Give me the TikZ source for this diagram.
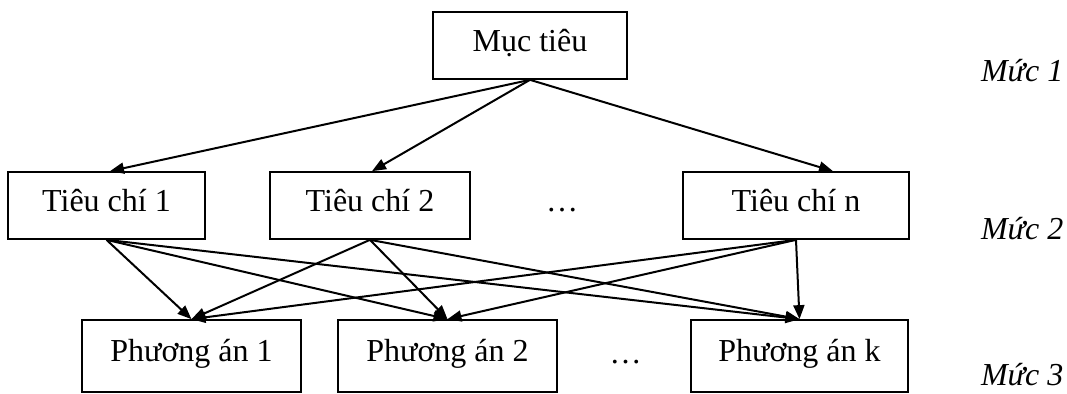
\documentclass[tikz,border=0pt]{standalone}
\usepackage{fontspec}
\setmainfont{Liberation Serif}
\usetikzlibrary{arrows.meta}
\newcommand{\diagfont}{\fontsize{16pt}{19pt}\selectfont}
\tikzset{box/.style={draw=black, line width=0.85pt, inner sep=0pt, text height=20pt, text depth=13.5pt, minimum width=#1},
%default width of a box
box/.default={100pt},
tall/.style={text height=21pt, text depth=15pt},
level/.style={anchor=base west, font=\diagfont\itshape},
arrow/.style={-{Triangle[length=7pt,width=5.5pt]}, line width=1pt}}

\begin{document}
\begin{tikzpicture}[x=0.5pt, y=-0.5pt, font=\diagfont]

    \useasboundingbox (0,0) rectangle (1067,394);

    \node[box=97pt] (muctieu) at (530,45.5) {Mục tiêu};

    \node[box=98.5pt] (tc1) at (106.5,205.5) {Tiêu chí 1};
    \node[box=100pt] (tc2) at (370,205.5) {Tiêu chí 2};
    \node[box=113pt] (tcn) at (796,205.5) {Tiêu chí n};

    \node[box=109.5pt, tall] (pa1) at (191.5,356) {Phương án 1};
    \node[box=109.5pt, tall] (pa2) at (447.5,356) {Phương án 2};
    \node[box=108.5pt, tall] (pak) at (799.5,356) {Phương án k};

    \node[anchor=base] (dots2) at (562,212) {…};
    \node[anchor=base] (dots3) at (625.5,364) {…};

    \node[level] (muc1) at (974,82) {Mức 1};
    \node[level] (muc2) at (974,240) {Mức 2};
    \node[level] (muc3) at (974,386) {Mức 3};


    \draw[arrow] (muctieu.south) -- ([xshift=1.75pt]tc1.north);
    \draw[arrow] (muctieu.south) -- ([xshift=1pt]tc2.north);
    \draw[arrow] (muctieu.south) -- ([xshift=18.5pt]tcn.north);

    \foreach \s in {tc1,tc2,tcn}
    \foreach \t in {pa1,pa2,pak}
    \draw[arrow] (\s.south) -- (\t.north);

  \end{tikzpicture}
\end{document}
